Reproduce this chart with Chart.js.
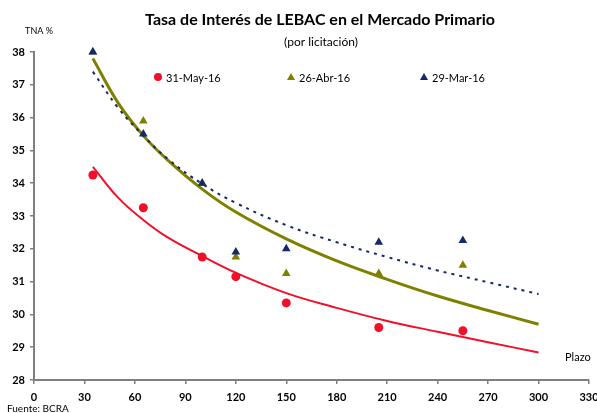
<!DOCTYPE html>
<html>
<head>
<meta charset="utf-8">
<script src="https://cdn.jsdelivr.net/npm/chart.js@4"></script>
<style>
  html, body { margin: 0; padding: 0; background: #fff; }
  #wrap { width: 597px; height: 413px; position: relative; }
</style>
</head>
<body>
<div id="wrap"><canvas id="chart" width="597" height="413"></canvas></div>
<script>
'use strict';

// plazos (días) de las licitaciones
const plazos = [35, 65, 100, 120, 150, 205, 255]
// tasas observadas
const may31 = [34.25, 33.25, 31.75, 31.15, 30.35, 29.6, 29.5]
const abr26 = [38.0, 35.9, 34.0, 31.75, 31.25, 31.25, 31.5]
const mar29 = [38.0, 35.5, 34.0, 31.9, 32.0, 32.2, 32.25]

// curvas de tendencia
const plazosTend = [35, 50, 65, 80, 100, 120, 150, 180, 210, 240, 270, 300]
const tendMay31 = [34.5, 33.56, 32.88, 32.33, 31.78, 31.27, 30.65, 30.2, 29.8, 29.47, 29.15, 28.84]
const tendAbr26 = [37.8, 36.45, 35.45, 34.68, 33.82, 33.12, 32.3, 31.63, 31.07, 30.56, 30.12, 29.7]
const tendMar29 = [37.4, 36.3, 35.45, 34.72, 33.98, 33.4, 32.72, 32.2, 31.75, 31.34, 30.98, 30.62]

const xTicks = [0, 30, 60, 90, 120, 150, 180, 210, 240, 270, 300, 330]

const RED = '#f0102a'
const OLIVE = '#808000'
const NAVY = '#14286a'
const FONT = 'Lato, "DejaVu Sans", sans-serif'

const pts = (xs, ys) => xs.map((x, i) => ({ x, y: ys[i] }))

// textos fijos y leyenda
const textos = {
  id: 'textos',
  afterDraw(chart) {
    const c = chart.ctx
    c.save()
    c.fillStyle = '#000'
    c.textBaseline = 'middle'
    c.textAlign = 'center'
    c.font = `bold 16px ${FONT}`
    c.fillText('Tasa de Interés de LEBAC en el Mercado Primario', 320, 20)
    c.font = `12px ${FONT}`
    c.fillText('(por licitación)', 321, 42)
    c.font = `9px ${FONT}`
    c.fillText('TNA %', 39, 31)
    c.textAlign = 'left'
    c.font = `11px ${FONT}`
    c.fillText('Plazo', 565, 357)
    c.font = `10px ${FONT}`
    c.fillText('Fuente: BCRA', 7, 409)

    // leyenda
    const items = [
      { x: 158, label: '31-May-16', color: RED, shape: 'circle' },
      { x: 291, label: '26-Abr-16', color: OLIVE, shape: 'tri' },
      { x: 424, label: '29-Mar-16', color: NAVY, shape: 'tri' },
    ]
    const ly = 77
    items.forEach(it => {
      c.fillStyle = it.color
      c.beginPath()
      if (it.shape === 'circle') {
        c.arc(it.x, ly, 4, 0, Math.PI * 2)
      } else {
        c.moveTo(it.x, ly - 4)
        c.lineTo(it.x + 4, ly + 3)
        c.lineTo(it.x - 4, ly + 3)
        c.closePath()
      }
      c.fill()
      c.fillStyle = '#000'
      c.font = `11px ${FONT}`
      c.fillText(it.label, it.x + 8, ly + 1)
    })
    c.restore()
  }
}

new Chart(document.getElementById('chart'), {
  type: 'scatter',
  data: {
    datasets: [
      { label: '29-Mar-16', data: pts(plazos, mar29), pointStyle: 'triangle', pointRadius: 5,
        backgroundColor: NAVY, borderColor: NAVY, borderWidth: 0, order: 1, clip: false },
      { label: '26-Abr-16', data: pts(plazos, abr26), pointStyle: 'triangle', pointRadius: 5,
        backgroundColor: OLIVE, borderColor: OLIVE, borderWidth: 0, order: 2, clip: false },
      { label: '31-May-16', data: pts(plazos, may31), pointStyle: 'circle', pointRadius: 4.5,
        backgroundColor: RED, borderColor: RED, borderWidth: 0, order: 3, clip: false },
      { label: 'tend 29-Mar', data: pts(plazosTend, tendMar29), showLine: true, pointRadius: 0,
        borderColor: NAVY, borderWidth: 2, borderDash: [3, 5], tension: 0.4, order: 4 },
      { label: 'tend 26-Abr', data: pts(plazosTend, tendAbr26), showLine: true, pointRadius: 0,
        borderColor: OLIVE, borderWidth: 3, tension: 0.4, order: 5 },
      { label: 'tend 31-May', data: pts(plazosTend, tendMay31), showLine: true, pointRadius: 0,
        borderColor: RED, borderWidth: 2, tension: 0.4, order: 6 },
    ]
  },
  options: {
    responsive: false,
    animation: false,
    layout: { padding: { left: 0, right: 8, top: 52, bottom: 0 } },
    plugins: { legend: { display: false }, tooltip: { enabled: false }, title: { display: false } },
    scales: {
      x: {
        type: 'linear', min: 0, max: 330,
        afterBuildTicks: s => { s.ticks = xTicks.map(v => ({ value: v })) },
        afterFit: s => { s.height = 33; s.paddingLeft = 0; s.paddingRight = 0 },
        border: { color: '#7f7f7f', width: 2 },
        grid: { drawOnChartArea: false, drawTicks: true, tickLength: 4, color: '#7f7f7f', lineWidth: 1.5 },
        ticks: { color: '#000', font: { family: FONT, size: 11, weight: 'bold' }, padding: 7, maxRotation: 0 }
      },
      y: {
        min: 28, max: 38,
        afterFit: s => { s.width = 34; s.paddingTop = 0; s.paddingBottom = 0 },
        border: { color: '#7f7f7f', width: 2 },
        grid: { drawOnChartArea: false, drawTicks: true, tickLength: 4, color: '#7f7f7f', lineWidth: 1.5 },
        ticks: { stepSize: 1, color: '#000', font: { family: FONT, size: 11, weight: 'bold' }, padding: 5 }
      }
    }
  },
  plugins: [textos]
})
</script>
</body>
</html>
